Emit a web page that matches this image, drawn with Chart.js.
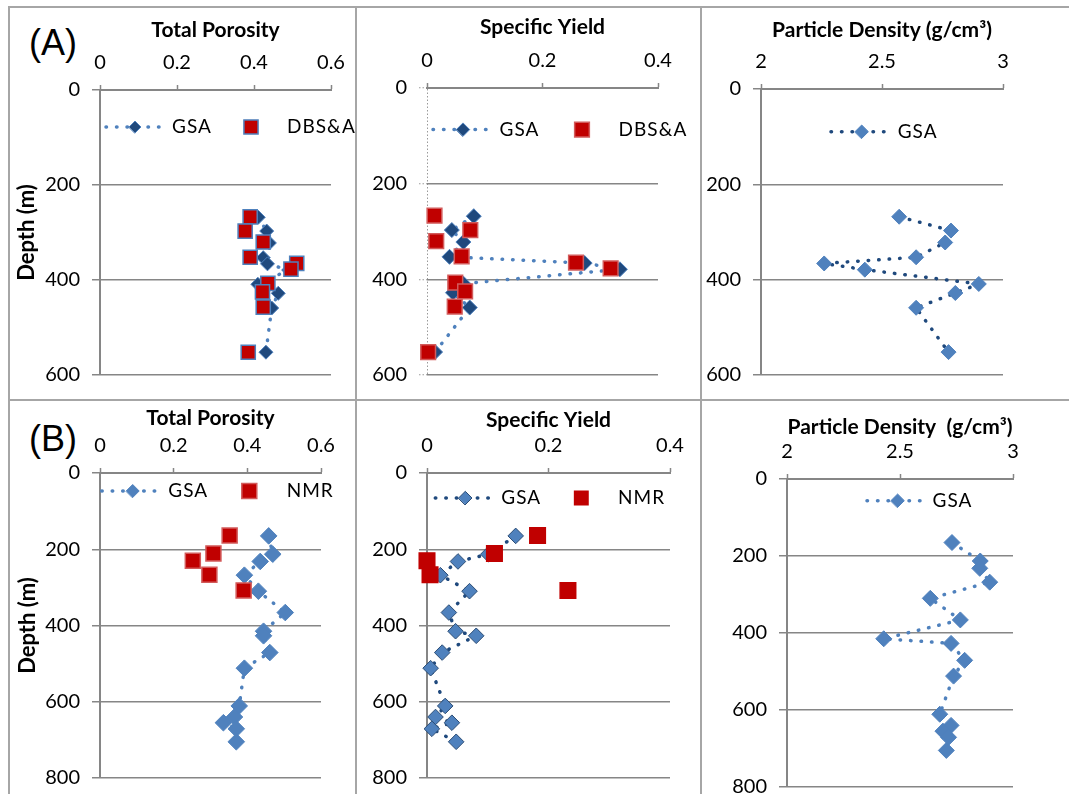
<!DOCTYPE html>
<html>
<head>
<meta charset="utf-8">
<script src="https://cdn.jsdelivr.net/npm/chart.js@4.4.1/dist/chart.umd.min.js"></script>
<style>
  body { margin:0; width:1069px; height:794px; overflow:hidden; background:#fff; position:relative; }
  canvas { position:absolute; }
  .rule { position:absolute; background:#a6a6a6; }
  .tag { position:absolute; font-family:"Liberation Sans", Arial, sans-serif; font-size:36px; color:#000; line-height:42px; }
</style>
</head>
<body>
<div class="rule" style="left:8px;top:6px;width:1061px;height:2px"></div>
<div class="rule" style="left:8px;top:399px;width:1061px;height:2px"></div>
<div class="rule" style="left:8px;top:6px;width:2px;height:788px"></div>
<div class="rule" style="left:355px;top:6px;width:2px;height:788px"></div>
<div class="rule" style="left:700px;top:6px;width:2px;height:788px"></div>
<div class="tag" style="left:29px;top:22px">(A)</div>
<div class="tag" style="left:29px;top:418px">(B)</div>
<canvas id="a1"></canvas>
<canvas id="a2"></canvas>
<canvas id="a3"></canvas>
<canvas id="b1"></canvas>
<canvas id="b2"></canvas>
<canvas id="b3"></canvas>
<script>
// ---- data (A) : GSA and DBS&A samples ----
const depthA = [268, 297, 322, 353, 366, 379, 409, 428, 459, 552];
const porosityGsaA = [0.411, 0.433, 0.440, 0.424, 0.435, 0.490, 0.410, 0.463, 0.446, 0.431];
const yieldGsaA = [0.081, 0.043, 0.063, 0.039, 0.273, 0.334, 0.063, 0.045, 0.074, 0.014];
const densityGsaA = [2.571, 2.785, 2.761, 2.641, 2.261, 2.429, 2.900, 2.803, 2.641, 2.775];

const depthDbsa = [267, 297, 320, 352, 365, 377, 407, 425, 457, 552];
const porosityDbsa = [0.390, 0.377, 0.424, 0.390, 0.511, 0.496, 0.436, 0.422, 0.424, 0.385];
const yieldDbsa = [0.013, 0.075, 0.016, 0.060, 0.258, 0.318, 0.049, 0.066, 0.048, 0.002];

// ---- data (B) : GSA and NMR ----
const depthB = [165, 213, 232, 268, 310, 366, 415, 427, 471, 512, 611, 640, 655, 671, 705];
const porosityGsaB = [0.458, 0.469, 0.435, 0.392, 0.430, 0.503, 0.444, 0.444, 0.461, 0.392, 0.378, 0.365, 0.335, 0.370, 0.370];
const yieldGsaB = [0.146, 0.101, 0.051, 0.022, 0.070, 0.036, 0.047, 0.081, 0.025, 0.006, 0.030, 0.014, 0.041, 0.008, 0.048];
const densityGsaB = [2.730, 2.855, 2.853, 2.897, 2.634, 2.767, 2.428, 2.726, 2.786, 2.737, 2.676, 2.726, 2.690, 2.715, 2.705];

const depthNmr = [164, 211, 230, 267, 308];
const porosityNmr = [0.352, 0.308, 0.252, 0.297, 0.390];
const yieldNmr = [0.182, 0.111, 0.000, 0.005, 0.232];

// ---- ticks ----
const porosityTicks = [0, 0.2, 0.4, 0.6];
const yieldTicks = [0, 0.2, 0.4];
const densityTicks = [2, 2.5, 3];
const depthTicksA = [0, 200, 400, 600];
const depthTicksB = [0, 200, 400, 600, 800];

const gray = '#868686';
const navy = '#1F497D';
const blue = '#4F81BD';
const red = '#C00000';
const pink = '#D25B5B';

Chart.defaults.font.family = 'Lato, sans-serif';
Chart.defaults.color = '#000';

function pts(xs, ys) { return xs.map((x, i) => ({x: x, y: ys[i]})); }

function gsa(xs, ys, st) {
  return {
    label: 'GSA', data: pts(xs, ys), showLine: true, order: 2, clip: false,
    borderColor: st.line, borderWidth: 3.5, borderDash: [0.5, 10], borderCapStyle: 'round',
    pointStyle: 'rectRot', pointRadius: st.r, pointBackgroundColor: st.fill,
    pointBorderColor: st.edge, pointBorderWidth: 1
  };
}
function squares(label, xs, ys, edge, r) {
  return {
    label: label, data: pts(xs, ys), showLine: false, order: 1, clip: false,
    pointStyle: 'rect', pointRadius: r, pointBackgroundColor: red,
    pointBorderColor: edge, pointBorderWidth: 1.5
  };
}

// legend drawn inside the plot, Excel style (dotted line + marker + text)
const insideLegend = {
  id: 'insideLegend',
  afterDatasetsDraw(chart, args, opts) {
    if (!opts.items) return;
    const {ctx, chartArea} = chart;
    const y = chartArea.top + opts.y;
    const x0 = chartArea.left;
    opts.items.forEach(it => {
      const ds = chart.data.datasets[it.ds];
      ctx.save();
      if (it.line) {
        ctx.strokeStyle = ds.borderColor;
        ctx.lineWidth = ds.borderWidth;
        ctx.lineCap = 'round';
        ctx.setLineDash(ds.borderDash);
        ctx.beginPath();
        ctx.moveTo(x0 + it.line[0], y);
        ctx.lineTo(x0 + it.line[1], y);
        ctx.stroke();
        ctx.setLineDash([]);
      }
      const r = it.r || ds.pointRadius;
      const mx = x0 + it.mark;
      ctx.fillStyle = ds.pointBackgroundColor;
      ctx.strokeStyle = ds.pointBorderColor;
      ctx.lineWidth = ds.pointBorderWidth;
      ctx.beginPath();
      if (ds.pointStyle === 'rectRot') {
        ctx.moveTo(mx - r, y); ctx.lineTo(mx, y - r); ctx.lineTo(mx + r, y); ctx.lineTo(mx, y + r);
      } else {
        const h = r * Math.SQRT1_2;
        ctx.rect(mx - h, y - h, 2 * h, 2 * h);
      }
      ctx.closePath();
      ctx.fill();
      ctx.stroke();
      ctx.fillStyle = '#000';
      ctx.font = '19px Lato, sans-serif';
      ctx.textBaseline = 'middle';
      ctx.letterSpacing = '1px';
      ctx.fillText(ds.label, x0 + it.text, y);
      ctx.restore();
    });
  }
};

const panels = [
  { id: 'a1', box: {x: 10, y: 8, w: 346, h: 391}, area: {l: 100, t: 90, r: 331, b: 376},
    xTicks: porosityTicks, yTicks: depthTicksA, xTitle: 'Total Porosity', xPad: 9.4, yTitle: 'Depth (m)', yPad: 3.8,
    datasets: [squares('DBS&A', porosityDbsa, depthDbsa, blue, 10), gsa(porosityGsaA, depthA, {line: blue, fill: navy, edge: blue, r: 7})],
    legend: {y: 37, items: [{ds: 1, line: [6, 62], mark: 35, text: 72, r: 6}, {ds: 0, mark: 151, text: 187}]} },
  { id: 'a2', box: {x: 358, y: 8, w: 342, h: 391}, area: {l: 427, t: 88, r: 658, b: 380}, dotted: true,
    xTicks: yieldTicks, yTicks: depthTicksA, xTitle: 'Specific Yield', xPad: 6.4,
    datasets: [squares('DBS&A', yieldDbsa, depthDbsa, pink, 10.4), gsa(yieldGsaA, depthA, {line: blue, fill: navy, edge: blue, r: 7.5})],
    legend: {y: 41.6, items: [{ds: 1, line: [6, 61.6], mark: 36, text: 72.6, r: 6.7}, {ds: 0, mark: 155, text: 191.6}]} },
  { id: 'a3', box: {x: 702, y: 8, w: 367, h: 391}, area: {l: 761, t: 89, r: 1003, b: 377},
    xTicks: densityTicks, yTicks: depthTicksA, xTitle: 'Particle Density (g/cm\u00B3)', xPad: 9.4,
    datasets: [gsa(densityGsaA, depthA, {line: navy, fill: blue, edge: blue, r: 7.5})],
    legend: {y: 42.7, items: [{ds: 0, line: [70, 124], mark: 100.7, text: 136.7, r: 6.7}]} },
  { id: 'b1', box: {x: 10, y: 401, w: 346, h: 410}, area: {l: 100, t: 473, r: 321, b: 778},
    xTicks: porosityTicks, yTicks: depthTicksB, xTitle: 'Total Porosity', xPad: 4.4, yTitle: 'Depth (m)', yPad: 4.8,
    datasets: [squares('NMR', porosityNmr, depthNmr, pink, 10.6), gsa(porosityGsaB, depthB, {line: blue, fill: blue, edge: blue, r: 8.3})],
    legend: {y: 18, items: [{ds: 1, line: [1.7, 55], mark: 32.7, text: 68.3, r: 6.5}, {ds: 0, mark: 149.3, text: 186.7}]} },
  { id: 'b2', box: {x: 358, y: 401, w: 342, h: 410}, area: {l: 427, t: 473, r: 670, b: 778},
    xTicks: yieldTicks, yTicks: depthTicksB, xTitle: 'Specific Yield', xPad: 6.4,
    datasets: [squares('NMR', yieldNmr, depthNmr, red, 11), gsa(yieldGsaB, depthB, {line: navy, fill: blue, edge: '#2C4D75', r: 7.8})],
    legend: {y: 25, items: [{ds: 1, line: [8.3, 62.6], mark: 38.3, text: 74.3, r: 6.7}, {ds: 0, mark: 154.3, text: 191, r: 9.5}]} },
  { id: 'b3', box: {x: 702, y: 401, w: 367, h: 410}, area: {l: 787, t: 479, r: 1013, b: 787},
    xTicks: densityTicks, yTicks: depthTicksB, xTitle: 'Particle Density  (g/cm\u00B3)', xPad: 13.4,
    datasets: [gsa(densityGsaB, depthB, {line: blue, fill: blue, edge: blue, r: 8})],
    legend: {y: 21.7, items: [{ds: 0, line: [80, 133.3], mark: 110.6, text: 145.6, r: 6.7}]} }
];

panels.forEach(p => {
  const cv = document.getElementById(p.id);
  cv.width = p.box.w;
  cv.height = p.box.h;
  cv.style.left = p.box.x + 'px';
  cv.style.top = p.box.y + 'px';
  const yW = p.area.l - p.box.x;
  const xH = p.area.t - p.box.y;
  const padR = p.box.x + p.box.w - p.area.r;
  const padB = p.box.y + p.box.h - p.area.b;

  new Chart(cv, {
    type: 'scatter',
    data: {datasets: p.datasets},
    plugins: [insideLegend],
    options: {
      responsive: false,
      animation: false,
      events: [],
      layout: {padding: {left: 0, top: 0, right: padR, bottom: padB}},
      plugins: {legend: {display: false}, tooltip: {enabled: false}, insideLegend: p.legend},
      scales: {
        x: {
          type: 'linear', position: 'top',
          min: p.xTicks[0], max: p.xTicks[p.xTicks.length - 1],
          afterBuildTicks: s => { s.ticks = p.xTicks.map(v => ({value: v})); },
          afterFit: s => { s.height = xH; },
          ticks: {font: {size: 20}, padding: 10, maxRotation: 0, autoSkip: false, callback: v => String(v)},
          grid: {
            drawOnChartArea: !!p.dotted,
            color: c => (p.dotted && c.tick && c.tick.value === 0) ? '#9a9a9a' : 'rgba(0,0,0,0)',
            lineWidth: 1, tickColor: gray, tickLength: 5, tickWidth: 1.5
          },
          border: {display: true, color: gray, width: 2, dash: p.dotted ? [1.5, 2] : undefined},
          title: {display: true, text: p.xTitle, font: {size: 21, weight: 'bold'}, padding: {top: p.xPad, bottom: 0}}
        },
        y: {
          type: 'linear', position: 'left', reverse: true,
          min: p.yTicks[0], max: p.yTicks[p.yTicks.length - 1],
          afterBuildTicks: s => { s.ticks = p.yTicks.map(v => ({value: v})); },
          afterFit: s => { s.width = yW; },
          ticks: {font: {size: 20}, padding: 12, callback: v => String(v)},
          grid: {
            color: gray, lineWidth: 1.5, tickColor: p.dotted ? '#9a9a9a' : gray, tickLength: 8,
            tickWidth: p.dotted ? 1 : 1.5, tickBorderDash: p.dotted ? [1.5, 2] : []
          },
          border: {display: !p.dotted, color: gray, width: 2},
          title: p.yTitle ? {display: true, text: p.yTitle, font: {size: 22, weight: 'bold'}, padding: {top: p.yPad, bottom: 0}} : {display: false}
        }
      }
    }
  });
});
</script>
</body>
</html>
